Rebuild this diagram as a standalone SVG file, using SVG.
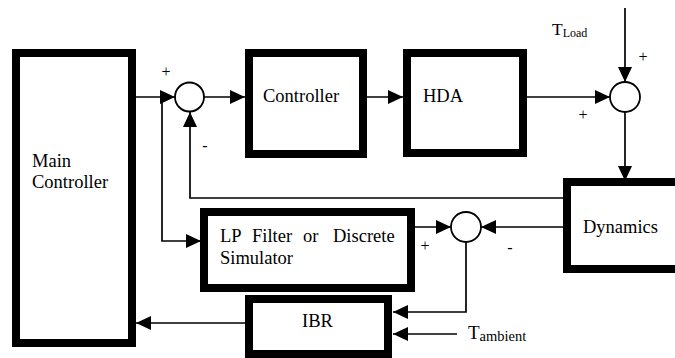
<svg xmlns="http://www.w3.org/2000/svg" width="675" height="358" viewBox="0 0 675 358">
<style>
.box{fill:#fff;stroke:#000;stroke-width:8}
.sum{fill:#fff;stroke:#000;stroke-width:1.8}
.c{fill:none;stroke:#000;stroke-width:1.7}
</style>
<defs>
<marker id="ah" viewBox="0 0 15 14" refX="15" refY="7" markerWidth="15" markerHeight="14" orient="auto" markerUnits="userSpaceOnUse">
<path d="M0,0 L15,7 L0,14 Z" fill="#000"/>
</marker>
</defs>
<g id="connectors" class="c" marker-end="url(#ah)">
<path d="M136,97 H175"/>
<path d="M204,97 H245"/>
<path d="M367,97 H403"/>
<path d="M527,97 H610"/>
<path d="M625,8 V82"/>
<path d="M625,112 V181"/>
<path d="M563,198 H190 V112"/>
<path d="M162,97 V241 H201"/>
<path d="M415,227 H451"/>
<path d="M563,227 H481"/>
<path d="M466,242 V312 H393"/>
<path d="M457,334 H393"/>
<path d="M245,323 H136"/>
</g>
<g fill="#000" font-family="Liberation Serif, Times New Roman, serif" font-size="18.5">
<g id="main-controller">
<rect class="box" x="16" y="53" width="116" height="290"/>
<text x="32" y="167">Main</text>
<text x="32" y="188">Controller</text>
</g>
<g id="sum1">
<circle class="sum" cx="189.5" cy="97" r="14.5"/>
<text font-size="16" x="166" y="77" text-anchor="middle">+</text>
<text font-size="16" x="205" y="151" text-anchor="middle">-</text>
</g>
<g id="controller">
<rect class="box" x="249" y="53" width="114" height="101"/>
<text x="263" y="102">Controller</text>
</g>
<g id="hda">
<rect class="box" x="407" y="53" width="116" height="100"/>
<text x="423" y="102">HDA</text>
</g>
<g id="sum2">
<circle class="sum" cx="625" cy="97" r="15"/>
<text font-size="16" x="643" y="62" text-anchor="middle">+</text>
<text font-size="16" x="583" y="120" text-anchor="middle">+</text>
</g>
<g id="tload">
<text x="552" y="35"><tspan font-size="17.5">T</tspan><tspan font-size="12" dy="2">Load</tspan></text>
</g>
<g id="dynamics">
<rect class="box" x="567" y="182" width="120" height="87"/>
<text x="583" y="233">Dynamics</text>
</g>
<g id="lp-filter">
<rect class="box" x="204" y="212" width="207" height="76"/>
<text y="242"><tspan x="220">LP</tspan><tspan x="252">Filter</tspan><tspan x="303">or</tspan><tspan x="333">Discrete</tspan></text>
<text x="220" y="264">Simulator</text>
</g>
<g id="sum3">
<circle class="sum" cx="466" cy="227" r="15"/>
<text font-size="16" x="425" y="251" text-anchor="middle">+</text>
<text font-size="16" x="510" y="253" text-anchor="middle">-</text>
</g>
<g id="ibr">
<rect class="box" x="249" y="299" width="139" height="55"/>
<text x="302" y="327">IBR</text>
</g>
<g id="tambient">
<text x="468" y="339"><tspan font-size="19">T</tspan><tspan font-size="14.5" dy="2">ambient</tspan></text>
</g>
</g>
</svg>
